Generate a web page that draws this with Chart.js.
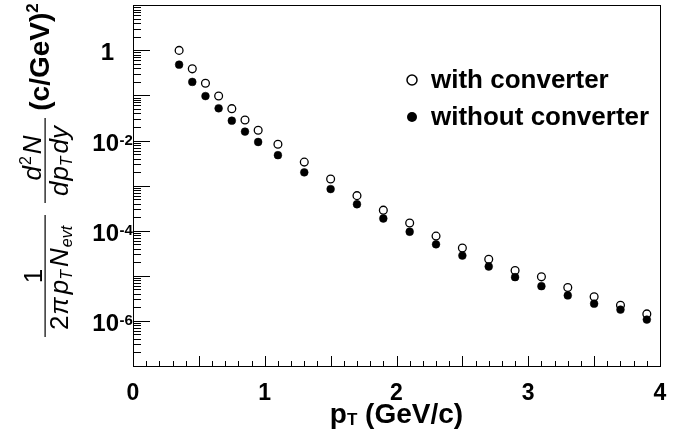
<!DOCTYPE html>
<html>
<head>
<meta charset="utf-8">
<title>pT spectra with and without converter</title>
<script src="https://cdn.jsdelivr.net/npm/chart.js@4.4.1/dist/chart.umd.min.js"></script>
<style>
    html, body { margin: 0; padding: 0; background: #fff; }
    #chart { display: block; }
</style>
</head>
<body>
<canvas id="chart" width="683" height="438"></canvas>
<script>
// pT bin centres (GeV/c)
var ptValues = [0.35, 0.45, 0.55, 0.65, 0.75, 0.85, 0.95, 1.1, 1.3, 1.5, 1.7,
    1.9, 2.1, 2.3, 2.5, 2.7, 2.9, 3.1, 3.3, 3.5, 3.7, 3.9];

// invariant yield, (c/GeV)^2
var withConverter = [1.0, 0.39, 0.187, 0.097, 0.051, 0.0286, 0.0169, 0.0083,
    0.00333, 0.0014, 6.0e-4, 2.86e-4, 1.48e-4, 7.6e-5, 4.15e-5, 2.33e-5,
    1.31e-5, 9.5e-6, 5.5e-6, 3.44e-6, 2.22e-6, 1.43e-6];
var withoutConverter = [0.483, 0.2, 0.097, 0.052, 0.0276, 0.0158, 0.0093,
    0.00474, 0.00197, 8.4e-4, 3.87e-4, 1.87e-4, 9.5e-5, 5.0e-5, 2.81e-5,
    1.61e-5, 9.35e-6, 5.9e-6, 3.68e-6, 2.41e-6, 1.78e-6, 1.07e-6];

var seriesLabels = ['with converter', 'without converter'];

// axis labels
var xTickValues = [0, 1, 2, 3, 4];
var xTickLabels = ['0', '1', '2', '3', '4'];
var yTickValues = [1, 1e-2, 1e-4, 1e-6];
var yTickBases = ['1', '10', '10', '10'];
var yTickExponents = ['', '-2', '-4', '-6'];

var FONT = '"Liberation Sans", Arial, Helvetica, sans-serif';

function toPoints(ys) {
    return ys.map(function(y, i) {
        return { x: ptValues[i], y: y };
    });
}

// draw a row of text pieces centred on cx, baseline at by
function drawRun(ctx, parts, cx, by) {
    var total = 0;
    parts.forEach(function(p) {
        ctx.font = p.font;
        total += ctx.measureText(p.t).width + (p.gap || 0);
    });
    var x = cx - total / 2;
    ctx.textAlign = 'left';
    ctx.textBaseline = 'alphabetic';
    parts.forEach(function(p) {
        ctx.font = p.font;
        x += (p.gap || 0);
        ctx.fillText(p.t, x, by + (p.dy || 0));
        x += ctx.measureText(p.t).width;
    });
}

var rootFrame = {
    id: 'rootFrame',
    afterDraw: function(chart) {
        var ctx = chart.ctx;
        var area = chart.chartArea;
        var xs = chart.scales.x;
        var ys = chart.scales.y;
        var i, d, m, px, len;

        ctx.save();
        ctx.strokeStyle = '#000';
        ctx.fillStyle = '#000';
        ctx.lineWidth = 1;

        // frame
        ctx.strokeRect(Math.round(area.left) + 0.5, Math.round(area.top) + 0.5,
            Math.round(area.right - area.left), Math.round(area.bottom - area.top));

        // y ticks (log), drawn inside the frame
        ctx.beginPath();
        for (d = -7; d <= 1; d++) {
            for (m = 1; m <= 9; m++) {
                var v = m * Math.pow(10, d);
                if (v < ys.min || v > ys.max) continue;
                px = Math.round(ys.getPixelForValue(v)) + 0.5;
                len = m === 1 ? 17 : 8;
                ctx.moveTo(area.left, px);
                ctx.lineTo(area.left + len, px);
            }
        }
        // x ticks
        for (i = 0; i <= 40; i++) {
            px = Math.round(xs.getPixelForValue(i / 10)) + 0.5;
            len = i % 5 === 0 ? 10 : 5;
            ctx.moveTo(px, area.bottom);
            ctx.lineTo(px, area.bottom - len);
        }
        ctx.stroke();

        // x tick labels
        ctx.font = 'bold 23px ' + FONT;
        ctx.textAlign = 'center';
        ctx.textBaseline = 'alphabetic';
        xTickValues.forEach(function(v, k) {
            ctx.fillText(xTickLabels[k], xs.getPixelForValue(v), 400);
        });

        // y tick labels with superscript exponents
        yTickValues.forEach(function(v, k) {
            var py = ys.getPixelForValue(v);
            ctx.textBaseline = 'alphabetic';
            if (!yTickExponents[k]) {
                ctx.font = 'bold 24px ' + FONT;
                ctx.textAlign = 'right';
                ctx.fillText(yTickBases[k], 114, py + 10);
                return;
            }
            ctx.font = 'bold 24px ' + FONT;
            ctx.textAlign = 'right';
            ctx.fillText(yTickBases[k], 119, py + 10);
            ctx.font = 'bold 15px ' + FONT;
            ctx.textAlign = 'left';
            ctx.fillText(yTickExponents[k], 119.5, py + 4);
        });

        // x title
        drawRun(ctx, [
            { t: 'p', font: 'bold 28px ' + FONT },
            { t: 'T', font: 'bold 17px ' + FONT, dy: 2 },
            { t: ' (GeV/c)', font: 'bold 28px ' + FONT }
        ], xs.getPixelForValue(2), 423);

        // y title, rotated
        ctx.save();
        ctx.rotate(-Math.PI / 2);
        var it = 'italic 26px ' + FONT;
        var rg = '26px ' + FONT;
        var sub = 'italic 16px ' + FONT;

        // 1 / (2 pi pT Nevt)
        drawRun(ctx, [{ t: '1', font: rg }], -276, 42);
        ctx.fillRect(-337, 44.5, 122, 1.2);
        drawRun(ctx, [
            { t: '2', font: rg },
            { t: '\u03c0', font: it, gap: 1 },
            { t: 'p', font: it, gap: 3 },
            { t: 'T', font: sub, dy: 4 },
            { t: 'N', font: it, gap: 3 },
            { t: 'evt', font: sub, dy: 4, gap: 1 }
        ], -278, 68);

        // d2N / (dpT dy)
        drawRun(ctx, [
            { t: 'd', font: it },
            { t: '2', font: '16px ' + FONT, dy: -10, gap: 1 },
            { t: 'N', font: it, gap: 2 }
        ], -158, 41);
        ctx.fillRect(-203, 44.5, 85, 1.2);
        drawRun(ctx, [
            { t: 'd', font: it },
            { t: 'p', font: it, gap: 1 },
            { t: 'T', font: sub, dy: 4 },
            { t: 'd', font: it, gap: 3 },
            { t: 'y', font: it }
        ], -161, 68);

        // (c/GeV)^2
        drawRun(ctx, [
            { t: '(c/GeV)', font: 'bold 28px ' + FONT },
            { t: '2', font: 'bold 17px ' + FONT, dy: -11 }
        ], -57, 49);
        ctx.restore();

        // legend
        var legendRows = [80, 117];
        chart.data.datasets.forEach(function(ds, k) {
            var cy = legendRows[k];
            ctx.beginPath();
            ctx.arc(412, cy, 5, 0, Math.PI * 2);
            if (k === 0) {
                ctx.lineWidth = 1.5;
                ctx.stroke();
            } else {
                ctx.fill();
            }
            ctx.font = 'bold 26px ' + FONT;
            ctx.textAlign = 'left';
            ctx.textBaseline = 'alphabetic';
            ctx.fillText(ds.label, 431, cy + 8);
        });

        ctx.restore();
    }
};

new Chart(document.getElementById('chart'), {
    type: 'scatter',
    data: {
        datasets: [{
            label: seriesLabels[0],
            data: toPoints(withConverter),
            pointStyle: 'circle',
            pointRadius: 3.9,
            pointBorderWidth: 1.3,
            pointBackgroundColor: '#fff',
            pointBorderColor: '#000',
            order: 2
        }, {
            label: seriesLabels[1],
            data: toPoints(withoutConverter),
            pointStyle: 'circle',
            pointRadius: 3.9,
            pointBorderWidth: 0.5,
            pointBackgroundColor: '#000',
            pointBorderColor: '#000',
            order: 1
        }]
    },
    options: {
        responsive: false,
        animation: false,
        devicePixelRatio: 1,
        layout: {
            padding: { left: 133, right: 23, top: 3, bottom: 72 }
        },
        plugins: {
            legend: { display: false },
            tooltip: { enabled: false }
        },
        scales: {
            x: {
                type: 'linear',
                min: 0,
                max: 4,
                ticks: { display: false },
                grid: { display: false, drawTicks: false },
                border: { display: false }
            },
            y: {
                type: 'logarithmic',
                min: 1e-7,
                max: 10,
                ticks: { display: false },
                grid: { display: false, drawTicks: false },
                border: { display: false }
            }
        }
    },
    plugins: [rootFrame]
});
</script>
</body>
</html>
